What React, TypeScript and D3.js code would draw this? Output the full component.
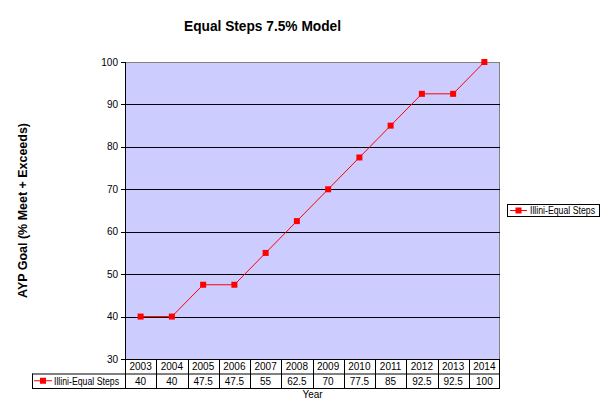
import React from 'react';
import * as d3 from 'd3';

const years = ['2003', '2004', '2005', '2006', '2007', '2008', '2009', '2010', '2011', '2012', '2013', '2014'];
const goals = [40, 40, 47.5, 47.5, 55, 62.5, 70, 77.5, 85, 92.5, 92.5, 100];
const yTicks = [30, 40, 50, 60, 70, 80, 90, 100];
const seriesName = 'Illini-Equal Steps';

const width = 606;
const height = 415;
const margin = { top: 62, right: 106, bottom: 56, left: 125 };
const font = 'Arial, "Liberation Sans", sans-serif';

const App: React.FC = () => {
  const innerW = width - margin.left - margin.right;
  const innerH = height - margin.top - margin.bottom;
  const x = d3.scaleBand().domain(years).range([margin.left, margin.left + innerW]);
  const y = d3.scaleLinear().domain([30, 100]).range([margin.top + innerH, margin.top]);
  const cx = (yr: string) => (x(yr) as number) + x.bandwidth() / 2;

  const line = d3.line<number>()
    .x((_, i) => cx(years[i]))
    .y(d => y(d));

  const plotL = margin.left;
  const plotR = margin.left + innerW;
  const plotT = margin.top;
  const plotB = margin.top + innerH;
  const rowH = 14.5;
  const tableL = 32;

  return (
    <div style={{ position: 'absolute', left: 0, top: 0 }}>
      <svg width={width} height={height} style={{ display: 'block', background: '#fff' }} fontFamily={font}>
        <text x={184} y={31} fontSize={15} fontWeight="bold" textLength={157} lengthAdjust="spacingAndGlyphs">Equal Steps 7.5% Model</text>

        {/* plot area */}
        <rect x={plotL} y={plotT} width={innerW} height={innerH} fill="#ccccff" />
        <line x1={plotL} x2={plotR} y1={plotT + 0.5} y2={plotT + 0.5} stroke="#808080" />
        <line x1={plotR - 0.5} x2={plotR - 0.5} y1={plotT} y2={plotB} stroke="#808080" />
        {yTicks.filter(t => t > 30 && t < 100).map(t => (
          <line key={t} x1={plotL} x2={plotR} y1={Math.round(y(t)) + 0.5} y2={Math.round(y(t)) + 0.5} stroke="#000" />
        ))}

        {/* y axis */}
        <line x1={plotL + 0.5} x2={plotL + 0.5} y1={plotT} y2={plotB} stroke="#000" />
        {yTicks.map(t => (
          <g key={t}>
            <line x1={plotL - 4} x2={plotL} y1={Math.round(y(t)) + 0.5} y2={Math.round(y(t)) + 0.5} stroke="#000" />
            <text x={plotL - 7} y={y(t) + 3.5} textAnchor="end" fontSize={10}>{t}</text>
          </g>
        ))}
        <text transform={`translate(27,${(plotT + plotB) / 2}) rotate(-90)`} textAnchor="middle" fontSize={12} fontWeight="bold" textLength={175} lengthAdjust="spacingAndGlyphs">
          AYP Goal (% Meet + Exceeds)
        </text>

        {/* series */}
        <path d={line(goals) || ''} fill="none" stroke="#ff0000" strokeWidth={1} />
        {goals.map((v, i) => (
          <rect key={i} x={cx(years[i]) - 3} y={y(v) - 3} width={6} height={6} fill="#ff0000" />
        ))}

        {/* data table */}
        <g stroke="#000" fill="none">
          <line x1={plotL} x2={plotR} y1={plotB + 0.5} y2={plotB + 0.5} />
          <line x1={tableL} x2={plotR} y1={plotB + rowH + 0.5} y2={plotB + rowH + 0.5} />
          <line x1={tableL} x2={plotR} y1={plotB + 2 * rowH + 0.5} y2={plotB + 2 * rowH + 0.5} />
          <line x1={tableL + 0.5} x2={tableL + 0.5} y1={plotB + rowH} y2={plotB + 2 * rowH} />
          {years.map(yr => (
            <line key={yr} x1={Math.round(x(yr) as number) + 0.5} x2={Math.round(x(yr) as number) + 0.5} y1={plotB} y2={plotB + 2 * rowH} />
          ))}
          <line x1={plotR - 0.5} x2={plotR - 0.5} y1={plotB} y2={plotB + 2 * rowH} />
        </g>
        {years.map((yr, i) => (
          <g key={yr}>
            <text x={cx(yr)} y={plotB + 11} textAnchor="middle" fontSize={10}>{yr}</text>
            <text x={cx(yr)} y={plotB + rowH + 11} textAnchor="middle" fontSize={10}>{goals[i]}</text>
          </g>
        ))}
        <line x1={tableL + 2} x2={tableL + 20} y1={plotB + rowH * 1.5} y2={plotB + rowH * 1.5} stroke="#ff0000" />
        <rect x={tableL + 8} y={plotB + rowH * 1.5 - 3} width={6} height={6} fill="#ff0000" />
        <text x={tableL + 22} y={plotB + rowH + 11} fontSize={10} textLength={65} lengthAdjust="spacingAndGlyphs">{seriesName}</text>
        <text x={(plotL + plotR) / 2} y={plotB + 2 * rowH + 10} textAnchor="middle" fontSize={10}>Year</text>

        {/* legend */}
        <rect x={507.5} y={204.5} width={92} height={12} fill="#fff" stroke="#000" />
        <line x1={510} x2={527} y1={210.5} y2={210.5} stroke="#ff0000" />
        <rect x={515.5} y={207.5} width={6} height={6} fill="#ff0000" />
        <text x={530} y={214} fontSize={10} textLength={65} lengthAdjust="spacingAndGlyphs">{seriesName}</text>
      </svg>
    </div>
  );
};

export default App;
